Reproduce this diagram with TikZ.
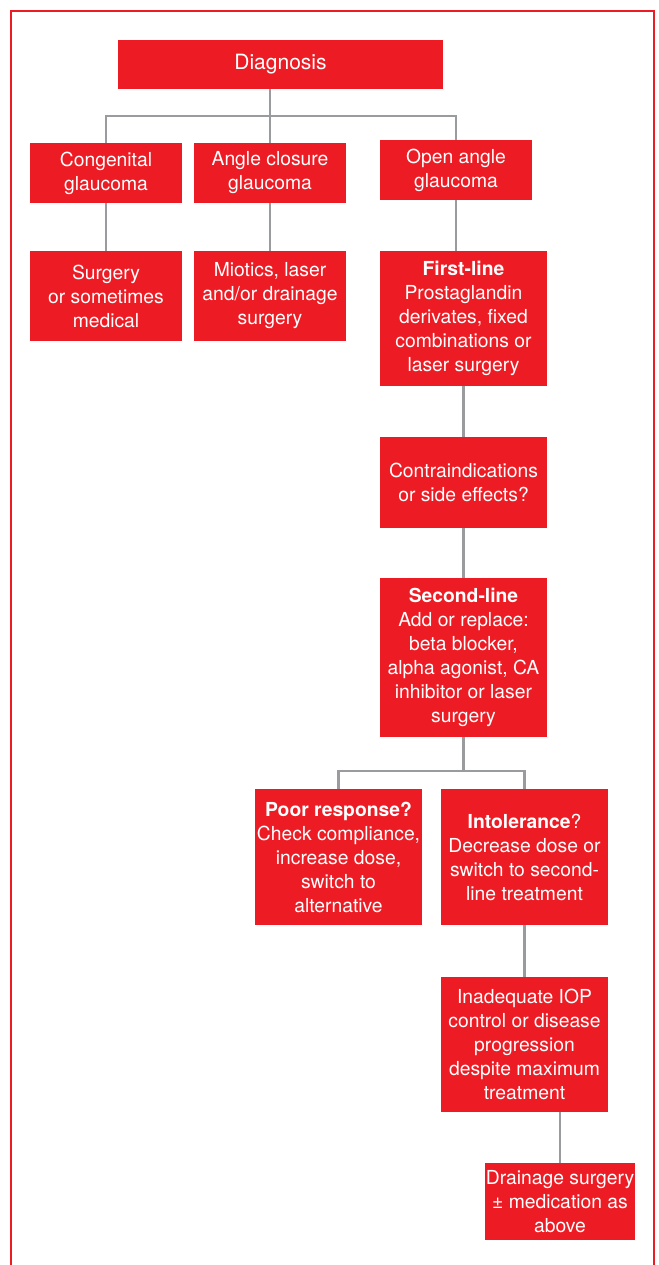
\documentclass[tikz,border=0pt]{standalone}
\usepackage{fontspec}
\setmainfont{TeX Gyre Heros}
\definecolor{boxred}{RGB}{237,28,36}
\definecolor{linegray}{RGB}{153,155,158}
\begin{document}
\begin{tikzpicture}[x=1pt,y=1pt,
        box/.style={fill=boxred,text=white,inner sep=0pt,align=center,font=\fontsize{19.3}{24}\selectfont},
        conn/.style={draw=linegray,line width=2.4pt}]
    \useasboundingbox (0,0) rectangle (658,-1265);
    \draw[boxred,line width=2pt] (11,-1265) -- (11,-11) -- (654,-11) -- (654,-1265);

    \node[box,minimum width=325,minimum height=49,font=\fontsize{21}{24}\selectfont] (diag) at (280.5,-64.5) {Diagnosis};

    \node[box,minimum width=152,minimum height=60] (cong) at (106,-173) {Congenital\\glaucoma};
    \node[box,minimum width=152,minimum height=60] (ang) at (270,-173) {Angle closure\\glaucoma};
    \node[box,minimum width=152,minimum height=60] (open) at (456,-170) {Open angle\\glaucoma};

    \node[box,minimum width=152,minimum height=90] (surg) at (106,-296) {Surgery\\or sometimes\\medical};
    \node[box,minimum width=152,minimum height=90] (miot) at (270,-296) {Miotics, laser\\and/or drainage\\surgery};

    \node[box,minimum width=167,minimum height=135] (first) at (463.5,-318.5) {\textbf{First-line}\\Prostaglandin\\derivates, fixed\\combinations or\\laser surgery};
    \node[box,minimum width=167,minimum height=91] (contra) at (463.5,-482.5) {Contraindications\\or side effects?};
    \node[box,minimum width=167,minimum height=159] (second) at (463.5,-657.5) {\textbf{Second-line}\\Add or replace:\\beta blocker,\\alpha agonist, CA\\inhibitor or laser\\surgery};

    \node[box,minimum width=167,minimum height=136] (poor) at (338.5,-857) {\textbf{Poor response?}\\Check compliance,\\increase dose,\\switch to\\alternative};
    \node[box,minimum width=167,minimum height=136] (intol) at (524.5,-857) {\textbf{Intolerance}?\\Decrease dose or\\switch to second-\\line treatment};

    \node[box,minimum width=167,minimum height=135] (inad) at (524.5,-1044.5) {Inadequate IOP\\control or disease\\progression\\despite maximum\\treatment};
    \node[box,minimum width=150,minimum height=77] (drain) at (560,-1201.5) {Drainage surgery\\± medication as\\above};

    % connectors
    \coordinate (bar1) at (269,-116);
    \coordinate (bar2) at (463,-771);
    \draw[conn] (diag.south -| ang.north) -- (ang.north);
    \draw[conn] (cong.north) -- (cong.north |- bar1) -- (open.north |- bar1) -- (open.north);
    \draw[conn] (cong.south) -- (surg.north);
    \draw[conn] (ang.south) -- (miot.north);
    \draw[conn] (open.south) -- (open.south |- first.north);
    \draw[conn] (first.south) -- (contra.north);
    \draw[conn] (contra.south) -- (second.north);
    \draw[conn] (second.south) -- (second.south |- bar2);
    \draw[conn] (poor.north) -- (poor.north |- bar2) -- (intol.north |- bar2) -- (intol.north);
    \draw[conn] (intol.south) -- (inad.north);
    \draw[conn] (drain.north |- inad.south) -- (drain.north);
\end{tikzpicture}
\end{document}
